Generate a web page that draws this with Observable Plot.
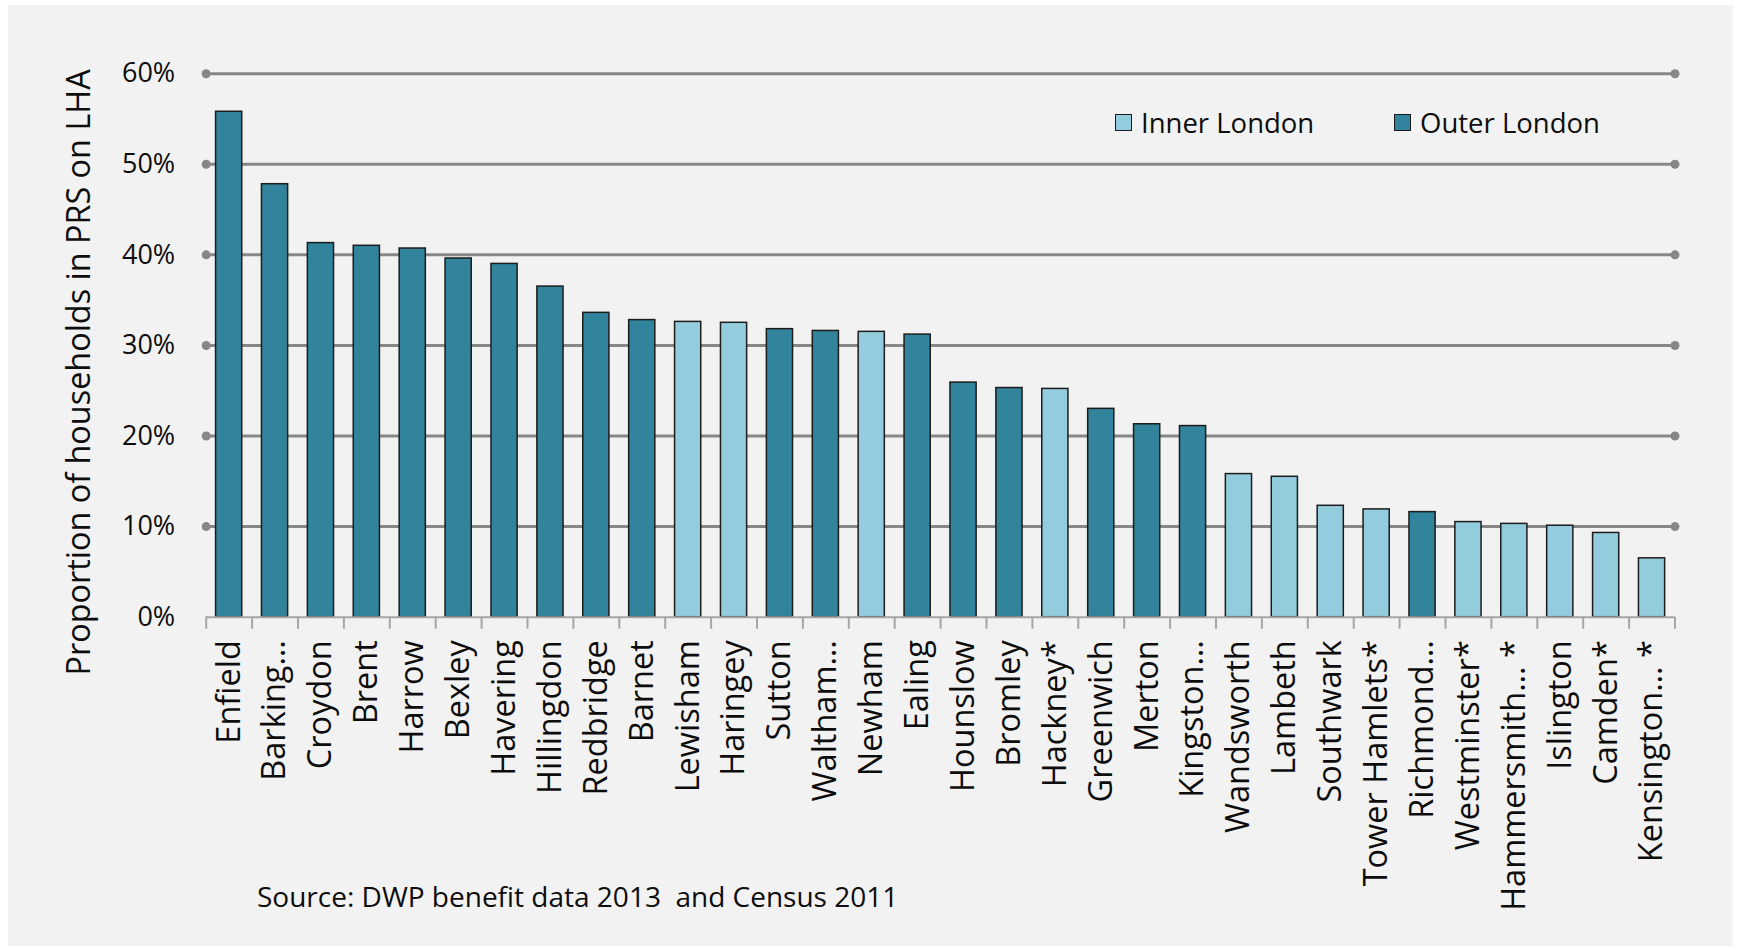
<!DOCTYPE html>
<html>
<head>
<meta charset="utf-8">
<script src="https://cdn.jsdelivr.net/npm/d3@7"></script>
<script src="https://cdn.jsdelivr.net/npm/@observablehq/plot@0.6"></script>
<style>
  html, body { margin: 0; padding: 0; background: #ffffff; }
  body { width: 1740px; height: 950px; position: relative; overflow: hidden; font-family: "Open Sans", sans-serif; color: #0d0d0d; }
  #bg { position: absolute; left: 8px; top: 5px; width: 1725px; height: 941px; background: #f2f2f2; }
  #chart { position: absolute; left: 0; top: 0; }
  .legend-item { position: absolute; display: flex; align-items: center; font-size: 27.5px; line-height: 1; }
  .swatch { width: 15px; height: 15px; border: 1.5px solid #1a1a1a; margin-right: 9px; }
  #source { position: absolute; left: 257px; top: 882px; font-size: 28px; line-height: 1; white-space: pre; }
</style>
</head>
<body>
<div id="bg"></div>
<div id="chart"></div>
<div class="legend-item" style="left:1115px; top:109px;"><div class="swatch" style="background:#93cddd"></div><span>Inner London</span></div>
<div class="legend-item" style="left:1394px; top:109px;"><div class="swatch" style="background:#31849b"></div><span>Outer London</span></div>
<div id="source">Source: DWP benefit data 2013  and Census 2011</div>
<script>
// ---- Data ----
const boroughs = ["Enfield", "Barking…", "Croydon", "Brent", "Harrow", "Bexley", "Havering", "Hillingdon", "Redbridge", "Barnet",
  "Lewisham", "Haringey", "Sutton", "Waltham…", "Newham", "Ealing", "Hounslow", "Bromley", "Hackney*", "Greenwich",
  "Merton", "Kingston…", "Wandsworth", "Lambeth", "Southwark", "Tower Hamlets*", "Richmond…", "Westminster*", "Hammersmith… *", "Islington",
  "Camden*", "Kensington… *"];
const shares = [55.8, 47.8, 41.3, 41.0, 40.7, 39.6, 39.0, 36.5, 33.6, 32.8,
  32.6, 32.5, 31.8, 31.6, 31.5, 31.2, 25.9, 25.3, 25.2, 23.0,
  21.3, 21.1, 15.8, 15.5, 12.3, 11.9, 11.6, 10.5, 10.3, 10.1,
  9.3, 6.5];
const regions = ["Outer London", "Outer London", "Outer London", "Outer London", "Outer London", "Outer London", "Outer London", "Outer London", "Outer London", "Outer London",
  "Inner London", "Inner London", "Outer London", "Outer London", "Inner London", "Outer London", "Outer London", "Outer London", "Inner London", "Outer London",
  "Outer London", "Outer London", "Inner London", "Inner London", "Inner London", "Inner London", "Outer London", "Inner London", "Inner London", "Inner London",
  "Inner London", "Inner London"];
const regionNames = ["Inner London", "Outer London"];
const regionColors = ["#93cddd", "#31849b"];
const yTicks = [0, 0.1, 0.2, 0.3, 0.4, 0.5, 0.6];
const yTitle = "Proportion of households in PRS on LHA";

const data = boroughs.map((name, i) => ({name, value: shares[i] / 100, region: regions[i]}));

// ---- Layout ----
const W = 1740, H = 950;
const ML = 205.7, MR = 65.5, MT = 73.2, MB = 333.3;
const step = (W - ML - MR) / boroughs.length;
const barInset = step * 0.215;
const gridColor = "#878787";
const textColor = "#0d0d0d";

const chart = Plot.plot({
  width: W,
  height: H,
  marginLeft: ML,
  marginRight: MR,
  marginTop: MT,
  marginBottom: MB,
  style: {background: "transparent", fontFamily: "Open Sans", color: textColor, overflow: "visible"},
  x: {domain: boroughs, padding: 0, round: false, axis: null},
  y: {domain: [0, 0.6], axis: null},
  color: {domain: regionNames, range: regionColors},
  marks: [
    // gridlines with end dots
    Plot.ruleY(yTicks.filter(d => d > 0), {stroke: gridColor, strokeWidth: 3}),
    Plot.dot(yTicks.filter(d => d > 0), {y: d => d, frameAnchor: "left", r: 4.5, fill: gridColor, stroke: null}),
    Plot.dot(yTicks.filter(d => d > 0), {y: d => d, frameAnchor: "right", r: 4.5, fill: gridColor, stroke: null}),
    // bars
    Plot.barY(data, {x: "name", y: "value", fill: "region", stroke: "#1c1c1c", strokeWidth: 1.5, insetLeft: barInset, insetRight: barInset}),
    // x axis line and boundary ticks
    Plot.ruleY([0], {stroke: "#a6a6a6", strokeWidth: 2}),
    Plot.ruleX(boroughs, {x: d => d, y1: 0, y2: 0, dx: -step / 2, insetBottom: -12, stroke: "#a6a6a6", strokeWidth: 2}),
    Plot.ruleX(boroughs.slice(-1), {x: d => d, y1: 0, y2: 0, dx: step / 2, insetBottom: -12, stroke: "#a6a6a6", strokeWidth: 2}),
    // category labels
    Plot.text(data, {x: "name", y: 0, text: "name", rotate: -90, textAnchor: "end", lineAnchor: "middle", dy: 23, fontSize: 32.5, fill: textColor}),
    // y tick labels
    Plot.text(yTicks, {y: d => d, text: d3.format(".0%"), frameAnchor: "left", textAnchor: "end", dx: -31, fontSize: 27, fill: textColor}),
    // y title
    Plot.text([yTitle], {text: d => d, frameAnchor: "left", textAnchor: "middle", rotate: -90, lineAnchor: "top", dx: -139, dy: 27, fontSize: 32.4, fill: textColor})
  ]
});
document.getElementById("chart").appendChild(chart);
</script>
</body>
</html>
